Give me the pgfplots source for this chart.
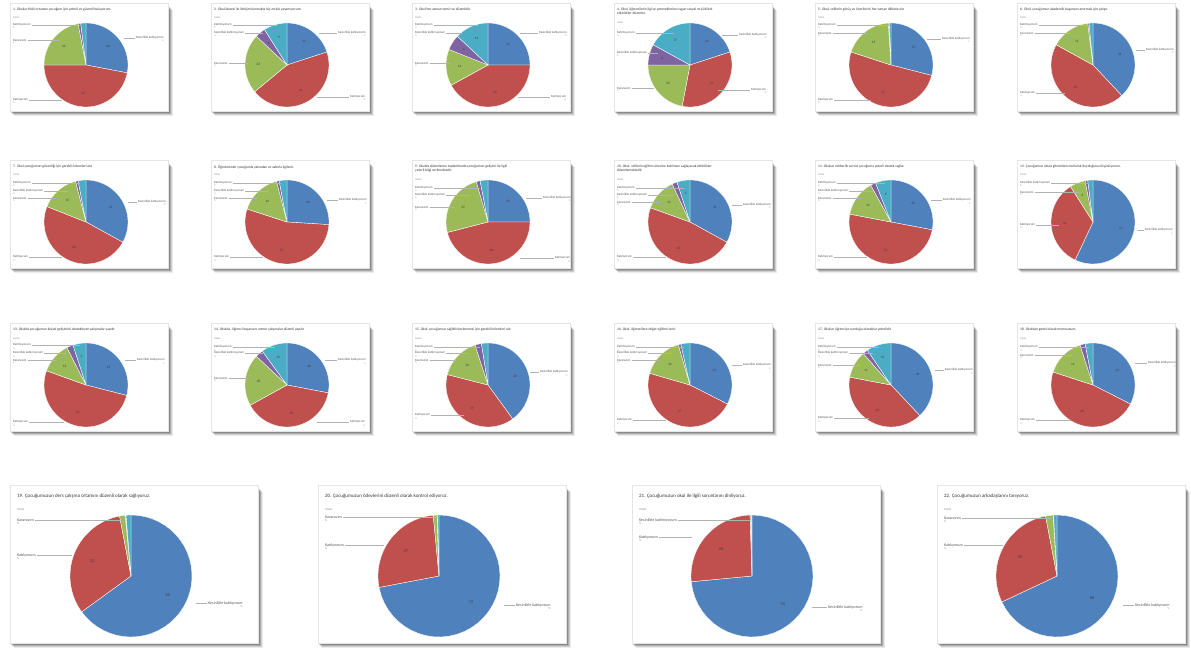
\documentclass[border=0pt]{standalone}
\usepackage{fontspec}
\setmainfont{Carlito}
\usepackage{pgfplots}
\pgfplotsset{compat=1.18}
\definecolor{pc1}{HTML}{4F81BD}
\definecolor{pc2}{HTML}{C0504D}
\definecolor{pc3}{HTML}{9BBB59}
\definecolor{pc4}{HTML}{8064A2}
\definecolor{pc5}{HTML}{4BACC6}
\definecolor{txt}{HTML}{595959}
\newcommand\ttl{\fontsize{3.6}{4.2}\selectfont}
\newcommand\bttl{\fontsize{5}{6}\selectfont}
\newcommand\lbl{\fontsize{3.2}{3.6}\selectfont}
\newcommand\blbl{\fontsize{4}{4.6}\selectfont}
\newcommand\nbl{\fontsize{3.4}{4}\selectfont}
\newcommand\bnbl{\fontsize{4.4}{5}\selectfont}
% card background, image coordinates (y down)
\newcommand\card[4]{%
  \pgfmathsetmacro\xa{#1}\pgfmathsetmacro\xb{#1+#3}%
  \pgfmathsetmacro\ya{653-#2}\pgfmathsetmacro\yb{653-#2-#4}%
  \foreach \o/\op in {5/0.08,4/0.12,3/0.16,2/0.2,1/0.24}{%
    \fill[black,opacity=\op] (\xa+\o-1,\yb-\o) rectangle (\xb+\o,\ya-\o-2);}
  \fill[white] (\xa,\yb) rectangle (\xb,\ya);
  \draw[black!10,line width=0.4pt] (\xa,\yb) rectangle (\xb,\ya);
}
% pie wedges (inside the axis)
\newcommand\pie[4]{%
  \def\pAcc{90}\def\ci{0}%
  \pgfmathsetmacro\pcx{#1}\pgfmathsetmacro\pcy{653-#2}%
  \pgfplotsforeachungrouped \pv in {#4}{%
    \pgfmathsetmacro\pEnd{\pAcc-3.6*\pv}%
    \pgfmathtruncatemacro\ci{\ci+1}%
    \edef\cmd{\noexpand\addplot[no markers,fill=pc\ci,draw=white,line width=0.35pt,domain=\pEnd:\pAcc,samples=36,variable=\noexpand\t]
       ({\pcx+#3*cos(\noexpand\t)},{\pcy+#3*sin(\noexpand\t)}) -- (axis cs:\pcx,\pcy) -- cycle;}%
    \cmd
    \let\pAcc\pEnd
  }%
}
% numbers in the slices
\newcommand\pnum[5]{%
  \def\pAcc{90}%
  \pgfplotsforeachungrouped \pv in {#4}{%
    \pgfmathsetmacro\pEnd{\pAcc-3.6*\pv}%
    \pgfmathsetmacro\pmid{(\pAcc+\pEnd)/2}%
    \pgfmathtruncatemacro\ok{\pv>=4 ? 1 : 0}%
    \ifnum\ok=1 \pgfmathtruncatemacro\vv{round(\pv)}%
      \node[font=#5,text=black!75,inner sep=0pt] at ({#1+0.68*#3*cos(\pmid)},{653-#2+0.68*#3*sin(\pmid)}) {\vv};\fi
    \let\pAcc\pEnd
  }%
}
% left label: bx, by, relx, rely, text, line target relx
\newcommand\lab[6]{%
  \node[anchor=west,font=\lbl,text=txt,inner sep=0pt] (L) at (#1+#3,653-#2-#4) {#5};
  \node[anchor=north west,font=\fontsize{2.4}{2.8}\selectfont,text=black!40,inner sep=0pt] at ([yshift=-0.6pt]L.south west) {\%};
  \draw[black!30,line width=0.25pt] ([xshift=1pt]L.east) -- (#1+#6,653-#2-#4);
}
\newcommand\blab[6]{%
  \node[anchor=west,font=\blbl,text=txt,inner sep=0pt] (L) at (#1+#3,653-#2-#4) {#5};
  \node[anchor=north west,font=\fontsize{3}{3.4}\selectfont,text=black!40,inner sep=0pt] at ([yshift=-0.8pt]L.south west) {\%};
  \draw[black!30,line width=0.3pt] ([xshift=1pt]L.east) -- (#1+#6,653-#2-#4);
}
% right label: line from relx target to the text
\newcommand\rlab[6]{%
  \node[anchor=west,font=\lbl,text=txt,inner sep=0pt] (L) at (#1+#3,653-#2-#4) {#5};
  \node[anchor=north east,font=\fontsize{2.4}{2.8}\selectfont,text=black!40,inner sep=0pt] at ([yshift=-0.6pt]L.south east) {\%};
  \draw[black!30,line width=0.25pt] ([xshift=-1pt]L.west) -- (#1+#6,653-#2-#4);
}
\newcommand\brlab[6]{%
  \node[anchor=west,font=\blbl,text=txt,inner sep=0pt] (L) at (#1+#3,653-#2-#4) {#5};
  \node[anchor=north east,font=\fontsize{3}{3.4}\selectfont,text=black!40,inner sep=0pt] at ([yshift=-0.8pt]L.south east) {\%};
  \draw[black!30,line width=0.3pt] ([xshift=-1pt]L.west) -- (#1+#6,653-#2-#4);
}
\newcommand\stitle[3]{%
  \node[anchor=north west,align=left,font=\ttl,text=black!80,inner sep=0pt] at (#1+3,653-#2-5) {#3};
}
\newcommand\btitle[3]{%
  \node[anchor=north west,align=left,font=\bttl,text=black!80,inner sep=0pt] at (#1+7,653-#2-9) {#3};
  \node[anchor=north west,font=\fontsize{3}{3.4}\selectfont,text=black!45,inner sep=0pt] at (#1+7,653-#2-23) {Yüzde};
}
\newcommand\ssub[3]{%
  \node[anchor=north west,font=\fontsize{2.6}{3}\selectfont,text=black!45,inner sep=0pt] at (#1+3,653-#2-#3) {Yüzde};
}
\begin{document}
\begin{tikzpicture}[x=1pt,y=1pt]
\fill[white] (0,0) rectangle (1191,653);
% cards
\foreach \cy in {3,160,323}{\foreach \cx in {10,211,412,614,815,1017}{\card{\cx}{\cy}{158}{108}}}
\foreach \cx in {10,318,632,937}{\card{\cx}{485}{248}{158}}
\begin{axis}[at={(0,0)},anchor=south west,scale only axis,width=1191pt,height=653pt,
  xmin=0,xmax=1191,ymin=0,ymax=653,hide axis,clip=false]
% row 1
\pie{86}{65}{42}{28,47,22,1,2}
\pie{287}{65}{42}{20,44,23,4,9}
\pie{488}{65}{42}{25,42,14,6,13}
\pie{690}{65}{42}{20,33,22,8,17}
\pie{891}{65}{42}{29,51,19,0.3,0.7}
\pie{1093}{65}{42}{38,45,15,0.5,1.5}
% row 2
\pie{86}{222}{42}{33,48,15,1,3}
\pie{287}{222}{42}{26,54,16,1,3}
\pie{488}{222}{42}{25,46,24.5,1.5,3}
\pie{690}{222}{42}{33,47.5,12.5,2,5}
\pie{891}{222}{42}{28,50,14,2,6}
\pie{1093}{222}{42}{57,34,6,1,2}
% row 3
\pie{86}{385}{42}{29,51.5,12,2.5,5}
\pie{287}{385}{42}{28,39,20,3,10}
\pie{488}{385}{42}{40,39,16,2.5,2.5}
\pie{690}{385}{42}{32.5,47,16,1,3.5}
\pie{891}{385}{42}{38,40,10.5,2,9.5}
\pie{1093}{385}{42}{32.5,47.5,15,2,3}
% row 4
\pie{131}{576}{61}{65,32,1.5,0.2,1.3}
\pie{439}{576}{61}{72,26.5,1,0.1,0.4}
\pie{752}{576}{61}{73.5,26,0.3,0.05,0.15}
\pie{1057}{576}{61}{68,29,2,0.1,0.9}
\end{axis}
% numbers
\pnum{86}{65}{42}{28,47,22,1,2}{\nbl}
\pnum{287}{65}{42}{20,44,23,4,9}{\nbl}
\pnum{488}{65}{42}{25,42,14,6,13}{\nbl}
\pnum{690}{65}{42}{20,33,22,8,17}{\nbl}
\pnum{891}{65}{42}{29,51,19,0.3,0.7}{\nbl}
\pnum{1093}{65}{42}{38,45,15,0.5,1.5}{\nbl}
\pnum{86}{222}{42}{33,48,15,1,3}{\nbl}
\pnum{287}{222}{42}{26,54,16,1,3}{\nbl}
\pnum{488}{222}{42}{25,46,24.5,1.5,3}{\nbl}
\pnum{690}{222}{42}{33,47.5,12.5,2,5}{\nbl}
\pnum{891}{222}{42}{28,50,14,2,6}{\nbl}
\pnum{1093}{222}{42}{57,34,6,1,2}{\nbl}
\pnum{86}{385}{42}{29,51.5,12,2.5,5}{\nbl}
\pnum{287}{385}{42}{28,39,20,3,10}{\nbl}
\pnum{488}{385}{42}{40,39,16,2.5,2.5}{\nbl}
\pnum{690}{385}{42}{32.5,47,16,1,3.5}{\nbl}
\pnum{891}{385}{42}{38,40,10.5,2,9.5}{\nbl}
\pnum{1093}{385}{42}{32.5,47.5,15,2,3}{\nbl}
\pnum{131}{576}{61}{65,32,1.5,0.2,1.3}{\bnbl}
\pnum{439}{576}{61}{72,26.5,1,0.1,0.4}{\bnbl}
\pnum{752}{576}{61}{73.5,26,0.3,0.05,0.15}{\bnbl}
\pnum{1057}{576}{61}{68,29,2,0.1,0.9}{\bnbl}
% ---- titles and labels, row 1
\stitle{10}{3}{1. Okulun fiziki ortamını çocuğum için yeterli ve güvenli buluyorum.}\ssub{10}{3}{14}
\lab{10}{3}{3}{22}{Katılmıyorum}{70}\lab{10}{3}{3}{37}{Kararsızım}{50}\lab{10}{3}{3}{97}{Katılıyorum}{52}
\rlab{10}{3}{126}{35}{Kesinlikle katılıyorum}{114}
\stitle{211}{3}{2. Okul idaresi ile iletişim kurmakta hiç zorluk yaşamıyorum.}\ssub{211}{3}{14}
\lab{211}{3}{3}{22}{Katılmıyorum}{66}\lab{211}{3}{3}{30}{Kesinlikle katılmıyorum}{52}\lab{211}{3}{3}{60}{Kararsızım}{38}
\rlab{211}{3}{127}{30}{Kesinlikle katılıyorum}{108}\rlab{211}{3}{139}{94}{Katılıyorum}{106}
\stitle{412}{3}{3. Okul her zaman temiz ve düzenlidir.}\ssub{412}{3}{14}
\lab{412}{3}{3}{22}{Katılmıyorum}{66}\lab{412}{3}{3}{30}{Kesinlikle katılmıyorum}{50}\lab{412}{3}{3}{60}{Kararsızım}{38}
\rlab{412}{3}{127}{30}{Kesinlikle katılıyorum}{108}\rlab{412}{3}{139}{94}{Katılıyorum}{106}
\stitle{614}{3}{4. Okul, öğrencilerin ilgi ve yeteneklerine uygun sosyal ve kültürel\\etkinlikler düzenler.}\ssub{614}{3}{19}
\lab{614}{3}{3}{30}{Katılmıyorum}{60}\lab{614}{3}{3}{50}{Kesinlikle katılmıyorum}{44}\lab{614}{3}{3}{85}{Kararsızım}{40}
\rlab{614}{3}{125}{32}{Kesinlikle katılıyorum}{108}\rlab{614}{3}{137}{87}{Katılıyorum}{104}
\stitle{815}{3}{5. Okul, velilerin görüş ve önerilerini her zaman dikkate alır.}\ssub{815}{3}{14}
\lab{815}{3}{3}{22}{Katılmıyorum}{74}\lab{815}{3}{3}{30}{Kararsızım}{52}\lab{815}{3}{3}{97}{Katılıyorum}{56}
\rlab{815}{3}{127}{36}{Kesinlikle katılıyorum}{112}
\stitle{1017}{3}{6. Okul, çocuğumun akademik başarısını artırmak için çalışır.}\ssub{1017}{3}{14}
\lab{1017}{3}{3}{22}{Katılmıyorum}{72}\lab{1017}{3}{3}{30}{Kararsızım}{54}\lab{1017}{3}{3}{90}{Katılıyorum}{48}
\rlab{1017}{3}{129}{47}{Kesinlikle katılıyorum}{119}
% ---- row 2
\stitle{10}{160}{7. Okul çocuğumun güvenliği için gerekli önlemleri alır.}\ssub{10}{160}{14}
\lab{10}{160}{3}{23}{Katılmıyorum}{70}\lab{10}{160}{3}{31}{Kesinlikle katılmıyorum}{58}\lab{10}{160}{3}{38}{Kararsızım}{46}\lab{10}{160}{3}{97}{Katılıyorum}{52}
\rlab{10}{160}{128}{42}{Kesinlikle katılıyorum}{118}
\stitle{211}{160}{8. Öğretmenler çocuğumla yakından ve sabırla ilgilenir.}\ssub{211}{160}{14}
\lab{211}{160}{3}{23}{Katılmıyorum}{70}\lab{211}{160}{3}{31}{Kesinlikle katılmıyorum}{58}\lab{211}{160}{3}{38}{Kararsızım}{46}\lab{211}{160}{3}{97}{Katılıyorum}{52}
\rlab{211}{160}{128}{40}{Kesinlikle katılıyorum}{116}
\stitle{412}{160}{9. Okulda düzenlenen toplantılarda çocuğumun gelişimi ile ilgili\\yeterli bilgi verilmektedir.}\ssub{412}{160}{19}
\lab{412}{160}{3}{28}{Katılmıyorum}{68}\lab{412}{160}{3}{35}{Kesinlikle katılmıyorum}{58}\lab{412}{160}{3}{47}{Kararsızım}{42}
\rlab{412}{160}{131}{38}{Kesinlikle katılıyorum}{114}\rlab{412}{160}{143}{98}{Katılıyorum}{108}
\stitle{614}{160}{10. Okul, velilerin eğitim sürecine katılımını sağlayacak etkinlikler\\düzenlemektedir.}\ssub{614}{160}{19}
\lab{614}{160}{3}{28}{Katılmıyorum}{70}\lab{614}{160}{3}{35}{Kesinlikle katılmıyorum}{60}\lab{614}{160}{3}{42}{Kararsızım}{46}\lab{614}{160}{3}{97}{Katılıyorum}{52}
\rlab{614}{160}{129}{45}{Kesinlikle katılıyorum}{118}
\stitle{815}{160}{11. Okulun rehberlik servisi çocuğuma yeterli destek sağlar.}\ssub{815}{160}{14}
\lab{815}{160}{3}{23}{Katılmıyorum}{70}\lab{815}{160}{3}{31}{Kesinlikle katılmıyorum}{58}\lab{815}{160}{3}{38}{Kararsızım}{46}\lab{815}{160}{3}{97}{Katılıyorum}{52}
\rlab{815}{160}{128}{40}{Kesinlikle katılıyorum}{116}
\stitle{1017}{160}{12. Çocuğumun okula gitmekten mutluluk duyduğunu düşünüyorum.}\ssub{1017}{160}{14}
\lab{1017}{160}{3}{23}{Kesinlikle katılmıyorum}{72}\lab{1017}{160}{3}{32}{Kararsızım}{62}\lab{1017}{160}{3}{65}{Katılıyorum}{42}
\rlab{1017}{160}{128}{70}{Kesinlikle katılıyorum}{120}
% ---- row 3
\stitle{10}{323}{13. Okulda çocuğumun kişisel gelişimini destekleyen çalışmalar yapılır.}\ssub{10}{323}{14}
\lab{10}{323}{3}{22}{Katılmıyorum}{70}\lab{10}{323}{3}{30}{Kesinlikle katılmıyorum}{56}\lab{10}{323}{3}{37}{Kararsızım}{46}\lab{10}{323}{3}{99}{Katılıyorum}{54}
\rlab{10}{323}{127}{37}{Kesinlikle katılıyorum}{115}
\stitle{211}{323}{14. Okulda, öğrenci başarısını artırıcı çalışmalar düzenli yapılır.}\ssub{211}{323}{14}
\lab{211}{323}{3}{24}{Katılmıyorum}{64}\lab{211}{323}{3}{30}{Kesinlikle katılmıyorum}{52}\lab{211}{323}{3}{55}{Kararsızım}{38}
\rlab{211}{323}{127}{37}{Kesinlikle katılıyorum}{114}\rlab{211}{323}{139}{99}{Katılıyorum}{106}
\stitle{412}{323}{15. Okul, çocuğumun sağlıklı beslenmesi için gerekli önlemleri alır.}\ssub{412}{323}{14}
\lab{412}{323}{3}{24}{Katılmıyorum}{68}\lab{412}{323}{3}{30}{Kesinlikle katılmıyorum}{56}\lab{412}{323}{3}{37}{Kararsızım}{44}\lab{412}{323}{3}{92}{Katılıyorum}{52}
\rlab{412}{323}{128}{49}{Kesinlikle katılıyorum}{118}
\stitle{614}{323}{16. Okul, öğrencilere değer eğitimi verir.}\ssub{614}{323}{14}
\lab{614}{323}{3}{24}{Katılmıyorum}{70}\lab{614}{323}{3}{30}{Kesinlikle katılmıyorum}{58}\lab{614}{323}{3}{37}{Kararsızım}{46}\lab{614}{323}{3}{97}{Katılıyorum}{52}
\rlab{614}{323}{129}{42}{Kesinlikle katılıyorum}{118}
\stitle{815}{323}{17. Okulun öğrenciye sunduğu olanaklar yeterlidir.}\ssub{815}{323}{14}
\lab{815}{323}{3}{24}{Katılmıyorum}{64}\lab{815}{323}{3}{30}{Kesinlikle katılmıyorum}{58}\lab{815}{323}{3}{42}{Kararsızım}{46}\lab{815}{323}{3}{95}{Katılıyorum}{54}
\rlab{815}{323}{130}{47}{Kesinlikle katılıyorum}{120}
\stitle{1017}{323}{18. Okuldan genel olarak memnunum.}\ssub{1017}{323}{14}
\lab{1017}{323}{3}{24}{Katılmıyorum}{72}\lab{1017}{323}{3}{32}{Kararsızım}{56}\lab{1017}{323}{3}{97}{Katılıyorum}{54}
\rlab{1017}{323}{131}{40}{Kesinlikle katılıyorum}{118}
% ---- row 4
\btitle{10}{485}{19. Çocuğumuzun ders çalışma ortamını düzenli olarak sağlıyoruz.}
\blab{10}{485}{7}{35}{Kararsızım}{112}\blab{10}{485}{7}{70}{Katılıyorum}{62}
\brlab{10}{485}{198}{118}{Kesinlikle katılıyorum}{186}
\btitle{318}{485}{20. Çocuğumuzun ödevlerini düzenli olarak kontrol ediyoruz.}
\blab{318}{485}{7}{32}{Kararsızım}{118}\blab{318}{485}{7}{60}{Katılıyorum}{66}
\brlab{318}{485}{198}{120}{Kesinlikle katılıyorum}{186}
\btitle{632}{485}{21. Çocuğumuzun okul ile ilgili sorunlarını dinliyoruz.}
\blab{632}{485}{7}{35}{Kesinlikle katılmıyorum}{118}\blab{632}{485}{7}{52}{Katılıyorum}{60}
\brlab{632}{485}{196}{122}{Kesinlikle katılıyorum}{180}
\btitle{937}{485}{22. Çocuğumuzun arkadaşlarını tanıyoruz.}
\blab{937}{485}{7}{33}{Kararsızım}{114}\blab{937}{485}{7}{60}{Katılıyorum}{66}
\brlab{937}{485}{198}{120}{Kesinlikle katılıyorum}{186}
\end{tikzpicture}
\end{document}
